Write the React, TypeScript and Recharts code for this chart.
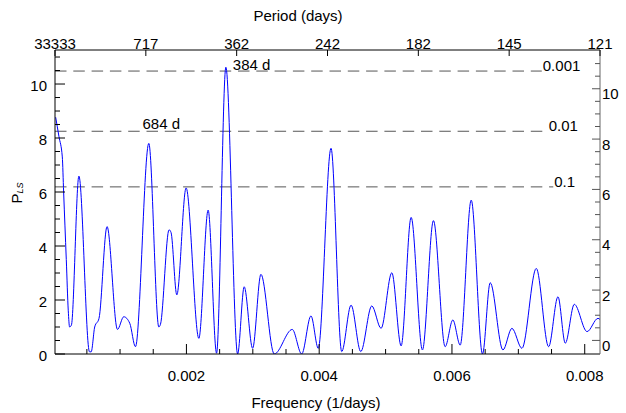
import React from "react";
import {
  LineChart,
  Line,
  XAxis,
  YAxis,
  ReferenceLine,
  ReferenceDot,
  Customized,
} from "recharts";

// ---- data (frequency in 1/days, Lomb-Scargle power) ----
const frequencies = [
  0.00003, 0.00008, 0.00013, 0.00015, 0.00019, 0.00022, 0.00024, 0.000267,
  0.00038, 0.00054, 0.000565, 0.000618, 0.000683, 0.000804, 0.000961,
  0.001056, 0.001146, 0.001232, 0.001433, 0.001584, 0.001609, 0.001738,
  0.001768, 0.001855, 0.001995, 0.002187, 0.002327, 0.002454, 0.002594,
  0.002771, 0.00287, 0.002997, 0.003122, 0.003323, 0.003594, 0.003736,
  0.003876, 0.003986, 0.004178, 0.004339, 0.00448, 0.004626, 0.004792,
  0.004932, 0.005094, 0.005234, 0.005385, 0.005555, 0.005721, 0.005897,
  0.006013, 0.006124, 0.00629, 0.00646, 0.006576, 0.006768, 0.006903,
  0.007054, 0.00727, 0.007456, 0.007597, 0.007707, 0.007843, 0.008035,
  0.0082, 0.00823,
];
const powers = [
  8.77, 8.05, 7.3, 6.0, 3.5, 1.6, 1.0, 1.07,
  6.59, 0.08, 0.08, 1.0, 1.32, 4.72, 0.91,
  1.38, 1.14, 0.27, 7.8, 1.0, 1.1, 4.6,
  4.5, 2.19, 6.15, 0.58, 5.33, 0.03, 10.62,
  0.0, 2.49, 0.21, 2.95, 0.0, 0.91, 0.0,
  1.41, 0.21, 7.62, 0.09, 1.81, 0.09, 1.78,
  0.95, 3.01, 0.3, 5.06, 0.15, 4.94, 0.27,
  1.26, 0.33, 5.7, 0.0, 2.64, 0.15, 0.95,
  0.21, 3.17, 0.27, 2.12, 0.4, 1.84, 0.83,
  1.32, 1.28,
];

const freqDomain = [0.00002, 0.00823];
const freqTicks = [
  0.0005, 0.001, 0.0015, 0.002, 0.0025, 0.003, 0.0035, 0.004, 0.0045, 0.005,
  0.0055, 0.006, 0.0065, 0.007, 0.0075, 0.008,
];
const freqMajorTicks = [0.002, 0.004, 0.006, 0.008];

const powerDomainLeft = [0, 11.26];
const powerDomainRight = [-0.54, 11.54];
const powerTicks = [
  0, 0.5, 1, 1.5, 2, 2.5, 3, 3.5, 4, 4.5, 5, 5.5, 6, 6.5, 7, 7.5, 8, 8.5, 9,
  9.5, 10, 10.5, 11,
];
const powerMajorTicks = [0, 2, 4, 6, 8, 10];

// top axis: period labels at evenly spaced positions across the frequency range
const periodLabels = ["33333", "717", "362", "242", "182", "145", "121"];
const periodTickFreqs = periodLabels.map(
  (_, k) =>
    freqDomain[0] + (k * (freqDomain[1] - freqDomain[0])) / (periodLabels.length - 1)
);

const fapLevels = [10.48, 8.25, 6.19];
const fapLabels = ["0.001", "0.01", "0.1"];
const fapLineEnds = [0.007353, 0.007443, 0.007526];

const peakFreqs = [0.002594, 0.001433];
const peakPowers = [10.62, 7.8];
const peakLabels = ["384 d", "684 d"];

// ---- styles ----
const FONT = '"Liberation Sans", Arial, Helvetica, sans-serif';
const peakLabelOffsets = [
  { dx: 7, dy: 2.7 },
  { dx: -6.3, dy: -14.4 },
];

const data = frequencies.map((f, i) => ({ f, p: powers[i] }));

const isIn = (arr: number[], v: number) =>
  arr.some((m) => Math.abs(m - v) < 1e-9);

const BottomTick = (props: any) => {
  const { x, y, payload } = props;
  const v = payload.value;
  const major = isIn(freqMajorTicks, v);
  return (
    <g>
      <line x1={x} x2={x} y1={y} y2={y - (major ? 10 : 5)} stroke="#000" strokeWidth={1} />
      {major ? (
        <text x={x} y={y + 27} textAnchor="middle" fontSize={15} fontFamily={FONT} fill="#000">
          {v.toFixed(3)}
        </text>
      ) : null}
    </g>
  );
};

const TopTick = (props: any) => {
  const { x, y, payload } = props;
  let idx = 0;
  let best = Infinity;
  periodTickFreqs.forEach((pf, k) => {
    const d = Math.abs(pf - payload.value);
    if (d < best) {
      best = d;
      idx = k;
    }
  });
  return (
    <g>
      <line x1={x} x2={x} y1={y} y2={y + 6} stroke="#000" strokeWidth={1} />
      <text x={x} y={y - 1.5} textAnchor="middle" fontSize={15} fontFamily={FONT} fill="#000">
        {periodLabels[idx]}
      </text>
    </g>
  );
};

const LeftTick = (props: any) => {
  const { x, y, payload } = props;
  const v = payload.value;
  const major = isIn(powerMajorTicks, v);
  return (
    <g>
      <line x1={x} x2={x + (major ? 10 : 5)} y1={y} y2={y} stroke="#000" strokeWidth={1} />
      {major ? (
        <text x={x - 8} y={y + 6.5} textAnchor="end" fontSize={15} fontFamily={FONT} fill="#000">
          {String(v)}
        </text>
      ) : null}
    </g>
  );
};

const RightTick = (props: any) => {
  const { x, y, payload } = props;
  const v = payload.value;
  const major = isIn(powerMajorTicks, v);
  return (
    <g>
      <line x1={x} x2={x - (major ? 8 : 5)} y1={y} y2={y} stroke="#555" strokeWidth={1} />
      {major ? (
        <text x={x + 2} y={y + 10.5} textAnchor="start" fontSize={15} fontFamily={FONT} fill="#000">
          {String(v)}
        </text>
      ) : null}
    </g>
  );
};

const FapLabel = (props: any) => {
  const { viewBox, text } = props;
  if (!viewBox) return null;
  return (
    <text
      x={viewBox.x + viewBox.width + 1}
      y={viewBox.y}
      textAnchor="start"
      fontSize={15}
      fontFamily={FONT}
      fill="#000"
    >
      {text}
    </text>
  );
};

const PeakLabel = (props: any) => {
  const { viewBox, text, dx, dy } = props;
  if (!viewBox) return null;
  const cx = viewBox.x + (viewBox.width || 0) / 2;
  const cy = viewBox.y + (viewBox.height || 0) / 2;
  return (
    <text x={cx + dx} y={cy + dy} textAnchor="start" fontSize={15} fontFamily={FONT} fill="#000">
      {text}
    </text>
  );
};

const Titles = () => (
  <g fontFamily={FONT} fill="#000">
    <text x={298} y={20.7} textAnchor="middle" fontSize={15}>
      Period (days)
    </text>
    <text x={316} y={408} textAnchor="middle" fontSize={15}>
      Frequency (1/days)
    </text>
    <text
      x={21.5}
      y={203.5}
      transform="rotate(-90, 21.5, 203.5)"
      textAnchor="start"
      fontSize={15}
    >
      P
      <tspan fontSize={9} fontStyle="italic" dy={1}>
        LS
      </tspan>
    </text>
  </g>
);

export default function App() {
  return (
    <div style={{ position: "absolute", left: 0, top: 0, width: 626, height: 413, background: "#fff" }}>
      <LineChart
        width={626}
        height={413}
        data={data}
        margin={{ top: 20, right: 0, bottom: 19, left: 15 }}
      >
        <XAxis
          xAxisId="bottom"
          dataKey="f"
          type="number"
          orientation="bottom"
          domain={freqDomain}
          allowDataOverflow
          ticks={freqTicks}
          interval={0}
          tickSize={0}
          tickMargin={0}
          tickLine={false}
          tick={<BottomTick />}
          axisLine={{ stroke: "#000", strokeWidth: 1 }}
          height={40}
        />
        <XAxis
          xAxisId="top"
          dataKey="f"
          type="number"
          orientation="top"
          domain={freqDomain}
          allowDataOverflow
          ticks={periodTickFreqs}
          interval={0}
          tickSize={0}
          tickMargin={0}
          tickLine={false}
          tick={<TopTick />}
          axisLine={{ stroke: "#000", strokeWidth: 1 }}
          height={30}
        />
        <YAxis
          yAxisId="left"
          type="number"
          orientation="left"
          domain={powerDomainLeft}
          allowDataOverflow
          ticks={powerTicks}
          interval={0}
          tickSize={0}
          tickMargin={0}
          tickLine={false}
          tick={<LeftTick />}
          axisLine={{ stroke: "#000", strokeWidth: 1 }}
          width={40}
        />
        <YAxis
          yAxisId="right"
          type="number"
          orientation="right"
          domain={powerDomainRight}
          allowDataOverflow
          ticks={powerTicks}
          interval={0}
          tickSize={0}
          tickMargin={0}
          tickLine={false}
          tick={<RightTick />}
          axisLine={{ stroke: "#666", strokeWidth: 1 }}
          width={26}
        />
        {fapLevels.map((lv, i) => (
          <ReferenceLine
            key={"fap" + i}
            xAxisId="bottom"
            yAxisId="left"
            segment={[
              { x: freqDomain[0], y: lv },
              { x: fapLineEnds[i], y: lv },
            ]}
            stroke="#555"
            strokeWidth={1}
            strokeDasharray="11.5 6.8"
            label={<FapLabel text={fapLabels[i]} />}
          />
        ))}
        <Line
          xAxisId="bottom"
          yAxisId="left"
          type="monotone"
          dataKey="p"
          stroke="#0000ff"
          strokeWidth={1}
          dot={false}
          isAnimationActive={false}
        />
        {peakFreqs.map((pf, i) => (
          <ReferenceDot
            key={"pk" + i}
            xAxisId="bottom"
            yAxisId="left"
            x={pf}
            y={peakPowers[i]}
            r={0}
            fill="none"
            stroke="none"
            label={
              <PeakLabel
                text={peakLabels[i]}
                dx={peakLabelOffsets[i].dx}
                dy={peakLabelOffsets[i].dy}
              />
            }
          />
        ))}
        <Customized component={Titles} />
      </LineChart>
    </div>
  );
}
